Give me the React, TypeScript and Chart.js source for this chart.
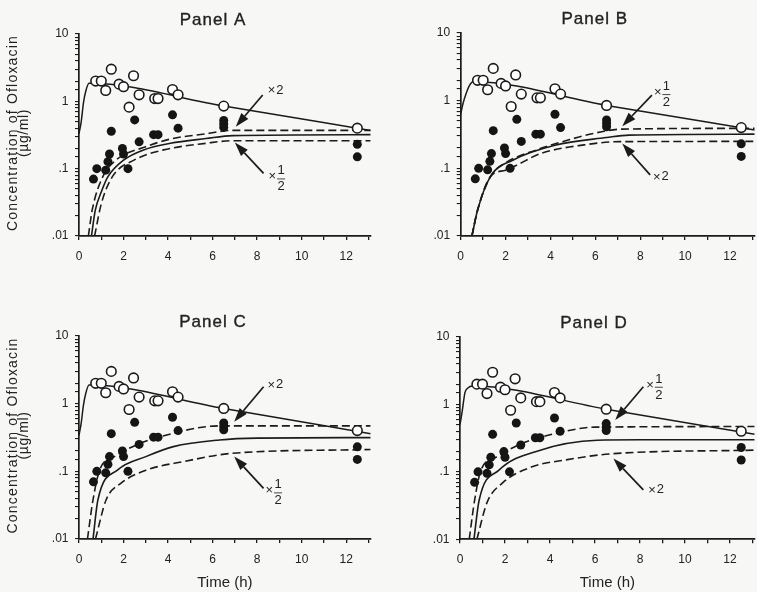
import React, { useEffect, useRef } from 'react';
import { Chart, registerables } from 'chart.js';

Chart.register(...registerables);

// ---------- observed data (same in all four panels) ----------
const openTimes = [0.75, 1.0, 1.2, 1.45, 1.8, 2.0, 2.25, 2.45, 2.7, 3.4, 3.55, 4.2, 4.45, 6.5, 12.5];
const openConc = [2.0, 2.0, 1.45, 3.0, 1.8, 1.65, 0.82, 2.4, 1.25, 1.1, 1.1, 1.5, 1.25, 0.85, 0.4];

const filledTimes = [0.65, 0.8, 1.2, 1.3, 1.37, 1.45, 1.95, 2.0, 2.2, 2.5, 2.7, 3.35, 3.55, 4.2, 4.45, 6.5, 6.5, 6.5, 12.5, 12.5];
const filledConc = [0.07, 0.1, 0.095, 0.127, 0.165, 0.36, 0.2, 0.165, 0.1, 0.53, 0.25, 0.32, 0.32, 0.63, 0.4, 0.52, 0.46, 0.41, 0.23, 0.15];

// ---------- model curves ----------
// Panel A
const topTimesA = [0, 0.1, 0.2, 0.3, 0.45, 6.5, 13.1];
const topConcA = [0.33, 0.5, 0.95, 1.4, 1.85, 0.85, 0.37];
const solidTimesA = [0.56, 0.73, 1.0, 1.3, 2.0, 2.9, 4.1, 5.7, 6.9, 13.1];
const solidConcA = [0.01, 0.024, 0.045, 0.076, 0.134, 0.19, 0.238, 0.28, 0.31, 0.32];
const upperTimesA = [0.42, 0.6, 1.07, 1.66, 3.0, 4.1, 5.7, 6.9, 13.1];
const upperConcA = [0.01, 0.025, 0.076, 0.134, 0.212, 0.275, 0.33, 0.37, 0.37];
const lowerTimesA = [0.7, 1.0, 1.5, 2.47, 3.8, 5.7, 6.9, 13.1];
const lowerConcA = [0.01, 0.03, 0.076, 0.134, 0.19, 0.238, 0.26, 0.26];

// Panel B
const topTimesB = [0, 0.1, 0.25, 0.4, 0.55, 6.5, 13.1];
const topConcB = [0.63, 0.9, 1.3, 1.7, 1.9, 0.85, 0.37];
const solidTimesB = [0.5, 0.75, 1.33, 2.34, 4.2, 6.5, 7.5, 13.1];
const solidConcB = [0.01, 0.024, 0.076, 0.133, 0.22, 0.285, 0.31, 0.32];
const upperTimesB = [0.5, 0.75, 1.33, 1.85, 3.43, 4.75, 5.95, 7.2, 13.1];
const upperConcB = [0.01, 0.024, 0.076, 0.112, 0.19, 0.26, 0.33, 0.38, 0.39];
const lowerTimesB = [0.5, 0.75, 1.33, 2.0, 3.6, 5.5, 7.1, 13.1];
const lowerConcB = [0.01, 0.024, 0.076, 0.094, 0.167, 0.222, 0.248, 0.25];

// Panel C
const topTimesC = [0, 0.1, 0.2, 0.3, 0.45, 6.5, 13.1];
const topConcC = [0.34, 0.52, 0.95, 1.4, 1.88, 0.85, 0.36];
const upperTimesC = [0.38, 0.63, 0.93, 1.59, 2.77, 4.24, 5.7, 6.6, 13.1];
const upperConcC = [0.01, 0.038, 0.105, 0.165, 0.26, 0.366, 0.457, 0.47, 0.47];
const solidTimesC = [0.63, 0.85, 1.74, 3.0, 4.24, 6.3, 8, 13.1];
const solidConcC = [0.01, 0.038, 0.105, 0.165, 0.232, 0.291, 0.31, 0.315];
const lowerTimesC = [0.74, 1.22, 1.89, 3.05, 4.68, 6.9, 13.1];
const lowerConcC = [0.01, 0.038, 0.067, 0.105, 0.139, 0.185, 0.21];

// Panel D
const topTimesD = [0, 0.1, 0.22, 0.35, 0.55, 6.5, 13.1];
const topConcD = [0.5, 0.8, 1.5, 1.75, 1.88, 0.85, 0.36];
const upperTimesD = [0.41, 0.65, 0.93, 1.6, 2.77, 4.24, 6.0, 13.1];
const upperConcD = [0.01, 0.038, 0.106, 0.165, 0.265, 0.37, 0.46, 0.47];
const solidTimesD = [0.62, 0.85, 1.72, 3.57, 6.1, 8, 13.1];
const solidConcD = [0.01, 0.038, 0.105, 0.21, 0.295, 0.3, 0.3];
const lowerTimesD = [0.75, 1.2, 1.88, 3.2, 4.68, 6.7, 13.1];
const lowerConcD = [0.01, 0.035, 0.068, 0.119, 0.15, 0.185, 0.21];

// ---------- ticks ----------
const yTickValues = [0.01, 0.1, 1, 10];
const yTickLabels = ['.01', '.1', '1', '10'];
const xTickValues = [0, 2, 4, 6, 8, 10, 12];
const xTickLabels = ['0', '2', '4', '6', '8', '10', '12'];

// ---------- axis titles ----------
const yTitleLines = ['Concentration of Ofloxacin', '(µg/ml)'];
const xTitleText = 'Time (h)';

// ---------- annotation arrows (tail -> tip, in data units) ----------
const arrowsA = [
  { label: 'x2', tail: [8.25, 1.24], tip: [7.04, 0.42] },
  { label: 'xhalf', tail: [8.29, 0.085], tip: [7.0, 0.244] },
];
const arrowsB = [
  { label: 'xhalf', tail: [8.52, 1.21], tip: [7.2, 0.42] },
  { label: 'x2', tail: [8.44, 0.08], tip: [7.2, 0.233] },
];
const arrowsC = [
  { label: 'x2', tail: [8.29, 1.78], tip: [6.97, 0.54] },
  { label: 'xhalf', tail: [8.29, 0.056], tip: [6.97, 0.165] },
];
const arrowsD = [
  { label: 'xhalf', tail: [8.15, 1.83], tip: [6.9, 0.59] },
  { label: 'x2', tail: [8.15, 0.054], tip: [6.82, 0.158] },
];

const FONT = '"Liberation Sans", Arial, Helvetica, sans-serif';
const INK = '#1b1b1b';
const TEXT = '#222222';
const BG = '#f7f7f5';

// label offsets (pixels) relative to arrow tails
const labelOffsetsA = [[5, -5], [5, 3]];
const labelOffsetsB = [[2, -3], [3, 2]];
const labelOffsetsC = [[4, -2], [2, 2]];
const labelOffsetsD = [[3, -2], [5, 0]];

const pts = (t: number[], c: number[]) => t.map((x, i) => ({ x, y: c[i] }));

const panels = [
  {
    title: 'Panel A', left: 0, top: 0, width: 378, height: 290, padTop: 34, padRight: 2.4, yWidth: 79, xHeight: 54,
    yTitle: true, xTitle: false,
    peak: [topTimesA, topConcA], solid: [solidTimesA, solidConcA], upper: [upperTimesA, upperConcA], lower: [lowerTimesA, lowerConcA],
    arrows: arrowsA, offsets: labelOffsetsA,
  },
  {
    title: 'Panel B', left: 378, top: 0, width: 384, height: 290, padTop: 33, padRight: 2.5, yWidth: 82.7, xHeight: 54,
    yTitle: false, xTitle: false,
    peak: [topTimesB, topConcB], solid: [solidTimesB, solidConcB], upper: [upperTimesB, upperConcB], lower: [lowerTimesB, lowerConcB],
    arrows: arrowsB, offsets: labelOffsetsB,
  },
  {
    title: 'Panel C', left: 0, top: 290, width: 378, height: 302, padTop: 46, padRight: 2.4, yWidth: 79, xHeight: 53,
    yTitle: true, xTitle: true,
    peak: [topTimesC, topConcC], solid: [solidTimesC, solidConcC], upper: [upperTimesC, upperConcC], lower: [lowerTimesC, lowerConcC],
    arrows: arrowsC, offsets: labelOffsetsC,
  },
  {
    title: 'Panel D', left: 378, top: 290, width: 384, height: 302, padTop: 47, padRight: 2.5, yWidth: 82, xHeight: 52.7,
    yTitle: false, xTitle: true,
    peak: [topTimesD, topConcD], solid: [solidTimesD, solidConcD], upper: [upperTimesD, upperConcD], lower: [lowerTimesD, lowerConcD],
    arrows: arrowsD, offsets: labelOffsetsD,
  },
];

function makeExtras(p: any) {
  return {
    id: 'extras',
    afterDatasetsDraw(chart: any) {
      const { ctx, chartArea, scales } = chart;
      ctx.save();
      // panel title
      ctx.fillStyle = TEXT;
      ctx.strokeStyle = TEXT;
      ctx.font = `17px ${FONT}`;
      ctx.textAlign = 'center';
      ctx.textBaseline = 'middle';
      (ctx as any).letterSpacing = '1px';
      ctx.lineWidth = 0.35;
      ctx.fillText(p.title, chartArea.left + 134, chartArea.top - 14);
      ctx.strokeText(p.title, chartArea.left + 134, chartArea.top - 14);

      // rotated y-axis title
      if (p.yTitle) {
        ctx.save();
        ctx.font = `14px ${FONT}`;
        (ctx as any).letterSpacing = '1.2px';
        const cy = (chartArea.top + chartArea.bottom) / 2 - 2;
        ctx.translate(13, cy);
        ctx.rotate(-Math.PI / 2);
        ctx.fillText(yTitleLines[0], 0, 0);
        (ctx as any).letterSpacing = '0.6px';
        ctx.fillText(yTitleLines[1], 0, 11.5);
        ctx.restore();
      }
      (ctx as any).letterSpacing = '0px';

      // arrows
      ctx.fillStyle = INK;
      ctx.strokeStyle = INK;
      ctx.lineWidth = 1.7;
      p.arrows.forEach((a: any, i: number) => {
        const x1 = scales.x.getPixelForValue(a.tail[0]);
        const y1 = scales.y.getPixelForValue(a.tail[1]);
        const x2 = scales.x.getPixelForValue(a.tip[0]);
        const y2 = scales.y.getPixelForValue(a.tip[1]);
        const ang = Math.atan2(y2 - y1, x2 - x1);
        const L = 14, W = 4.6;
        const bx = x2 - L * Math.cos(ang);
        const by = y2 - L * Math.sin(ang);
        ctx.beginPath();
        ctx.moveTo(x1, y1);
        ctx.lineTo(bx, by);
        ctx.stroke();
        ctx.beginPath();
        ctx.moveTo(x2, y2);
        ctx.lineTo(bx + W * Math.sin(ang), by - W * Math.cos(ang));
        ctx.lineTo(bx - W * Math.sin(ang), by + W * Math.cos(ang));
        ctx.closePath();
        ctx.fill();

        const [dx, dy] = p.offsets[i];
        const lx = x1 + dx, ly = y1 + dy;
        ctx.fillStyle = TEXT;
        ctx.textBaseline = 'middle';
        ctx.textAlign = 'left';
        ctx.font = `13px ${FONT}`;
        if (a.label === 'x2') {
          ctx.fillText('×', lx, ly + 0.5);
          ctx.fillText('2', lx + 8.5, ly);
        } else {
          ctx.fillText('×', lx, ly + 0.5);
          ctx.textAlign = 'center';
          ctx.fillText('1', lx + 12.5, ly - 5.5);
          ctx.fillText('2', lx + 12.5, ly + 10.5);
          ctx.lineWidth = 0.8;
          ctx.beginPath();
          ctx.moveTo(lx + 8.5, ly + 2.5);
          ctx.lineTo(lx + 16.5, ly + 2.5);
          ctx.stroke();
          ctx.lineWidth = 1.7;
        }
        ctx.fillStyle = INK;
      });
      ctx.restore();
    },
  };
}

function Panel({ p }: { p: any }) {
  const ref = useRef<HTMLCanvasElement>(null);
  useEffect(() => {
    if (!ref.current) return;
    const lineBase = {
      type: 'line' as const,
      pointRadius: 0,
      borderColor: INK,
      borderWidth: 1.6,
      fill: false,
      cubicInterpolationMode: 'monotone' as const,
    };
    const chart = new Chart(ref.current, {
      type: 'scatter',
      data: {
        datasets: [
          {
            type: 'scatter', data: pts(openTimes, openConc), pointRadius: 4.8, pointBorderWidth: 1.6,
            pointBackgroundColor: '#ffffff', pointBorderColor: INK, order: 0,
          } as any,
          {
            type: 'scatter', data: pts(filledTimes, filledConc), pointRadius: 4.5, pointBorderWidth: 0,
            pointBackgroundColor: '#151515', pointBorderColor: '#151515', order: 1,
          } as any,
          { ...lineBase, data: pts(p.peak[0], p.peak[1]), order: 2, borderWidth: 1.5 } as any,
          { ...lineBase, data: pts(p.solid[0], p.solid[1]), order: 3 } as any,
          { ...lineBase, data: pts(p.upper[0], p.upper[1]), borderDash: [8, 4], order: 4 } as any,
          { ...lineBase, data: pts(p.lower[0], p.lower[1]), borderDash: [8, 4], order: 5 } as any,
        ],
      },
      options: {
        animation: false,
        responsive: false,
        events: [],
        layout: { padding: { left: 0, top: p.padTop, right: p.padRight, bottom: 0 } },
        plugins: { legend: { display: false }, tooltip: { enabled: false }, title: { display: false } },
        scales: {
          x: {
            type: 'linear',
            min: 0,
            max: 13.1,
            afterFit: (s: any) => { s.height = p.xHeight; },
            grid: { drawOnChartArea: false, drawTicks: true, tickLength: 4, color: INK, lineWidth: 1.3 },
            border: { display: true, color: INK, width: 1.7 },
            ticks: {
              stepSize: 1,
              includeBounds: false,
              autoSkip: false,
              maxRotation: 0,
              padding: 9.5,
              color: TEXT,
              font: { family: FONT, size: 12 },
              callback: (v: any) => {
                const i = xTickValues.indexOf(Number(v));
                return i >= 0 ? xTickLabels[i] : '';
              },
            },
            title: {
              display: p.xTitle,
              text: xTitleText,
              color: TEXT,
              font: { family: FONT, size: 15 },
              padding: { top: 0, bottom: 0 },
            },
          },
          y: {
            type: 'logarithmic',
            min: 0.01,
            max: 10,
            afterFit: (s: any) => { s.width = p.yWidth; },
            grid: { drawOnChartArea: false, drawTicks: true, tickLength: 4, color: INK, lineWidth: 1.1 },
            border: { display: true, color: INK, width: 1.7 },
            ticks: {
              autoSkip: false,
              padding: 6.5,
              color: TEXT,
              font: { family: FONT, size: 12 },
              callback: (v: any) => {
                const n = Number(v);
                const i = yTickValues.findIndex((t) => Math.abs(t - n) / t < 1e-6);
                return i >= 0 ? yTickLabels[i] : '';
              },
            },
            title: { display: false },
          },
        },
      },
      plugins: [makeExtras(p)],
    } as any);
    return () => chart.destroy();
  }, [p]);
  return (
    <canvas
      ref={ref}
      width={p.width}
      height={p.height}
      style={{ position: 'absolute', left: p.left, top: p.top, width: p.width, height: p.height }}
    />
  );
}

export default function App() {
  return (
    <div
      style={{
        position: 'fixed', left: 0, top: 0, width: 757, height: 592,
        overflow: 'hidden', background: BG,
      }}
    >
      {panels.map((p) => (
        <Panel key={p.title} p={p} />
      ))}
    </div>
  );
}
